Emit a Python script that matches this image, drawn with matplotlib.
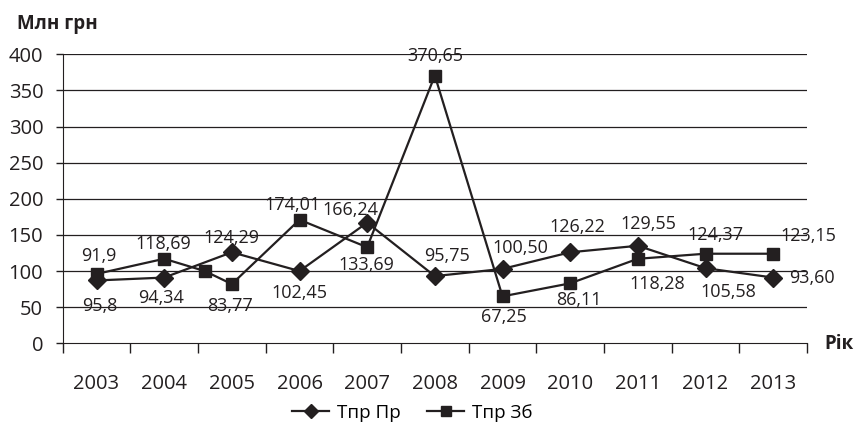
import numpy as np
import matplotlib.pyplot as plt

plt.rcParams['font.family'] = ['Open Sans', 'DejaVu Sans']

years = ['2003', '2004', '2005', '2006', '2007', '2008', '2009', '2010', '2011', '2012', '2013']

# values as drawn (positions)
pr_x = [0, 1, 2, 3, 4, 5, 6, 7, 8, 9, 10]
pr_y = [87, 91, 126, 100, 167, 93, 103, 126, 135, 104, 91]
zb_x = [0, 1, 1.6, 2, 3, 4, 5, 6, 7, 8, 9, 10]
zb_y = [96, 117, 100, 82, 171, 133, 370.65, 65, 83, 117, 124, 124]

# data labels as printed (text, x position, y position)
lab_text = ['91,9', '95,8', '118,69', '94,34', '124,29', '83,77', '174,01', '102,45',
            '166,24', '133,69', '370,65', '95,75', '100,50', '67,25', '126,22', '86,11',
            '129,55', '118,28', '124,37', '105,58', '123,15', '93,60']
lab_x = [0.03, 0.05, 0.98, 0.96, 2.0, 1.97, 2.9, 3.0, 3.75, 3.99, 5.0, 5.18, 6.27,
         6.02, 7.11, 7.13, 8.15, 8.28, 9.15, 9.34, 10.52, 10.58]
lab_y = [121, 52, 138, 63, 146, 51, 192, 70, 185, 109, 397, 121, 132, 37, 161, 60,
         165, 82, 150, 71, 148, 91]

fig = plt.figure(figsize=(8.62, 4.30), dpi=100)
ax = fig.add_axes([0.0727, 0.2016, 0.8635, 0.6721])

for v in range(50, 401, 50):
    ax.axhline(v, color='#231f20', lw=0.9, zorder=1)

ax.plot(pr_x, pr_y, color='#231f20', lw=1.6, marker='D', ms=9, label='Тпр Пр', zorder=3)
ax.plot(zb_x, zb_y, color='#231f20', lw=1.6, marker='s', ms=8.5, label='Тпр Зб', zorder=3)

for t, x, y in zip(lab_text, lab_x, lab_y):
    ax.text(x, y, t, ha='center', va='center', fontsize=13, color='#231f20', zorder=4)

ax.set_xlim(-0.5, 10.5)
ax.set_ylim(0, 400)
ax.set_yticks(range(0, 401, 50))
ax.set_xticks(np.arange(len(years)))
ax.set_xticklabels(years)
ax.set_xticks(np.arange(-0.5, 10.6, 1), minor=True)
ax.tick_params(axis='x', which='major', length=0, pad=22, labelsize=14.5, colors='#231f20')
ax.tick_params(axis='x', which='minor', length=7, width=1, color='#231f20')
ax.tick_params(axis='y', length=5, width=1, labelsize=14.5, colors='#231f20', pad=9)

for s in ['top', 'right']:
    ax.spines[s].set_visible(False)
ax.spines['left'].set_color('#231f20')
ax.spines['bottom'].set_color('#231f20')

fig.text(0.02, 0.945, 'Млн грн', fontsize=13.5, fontweight='bold', color='#231f20', va='center')
fig.text(0.956, 0.2, 'Рік', fontsize=13.5, fontweight='bold', color='#231f20', va='center')

fig.legend(loc='center', bbox_to_anchor=(0.478, 0.04), ncol=2, frameon=False,
           fontsize=13.5, handlelength=2.0, columnspacing=1.4, handletextpad=0.4,
           markerscale=0.8)

fig.savefig('out.png', dpi=100)
